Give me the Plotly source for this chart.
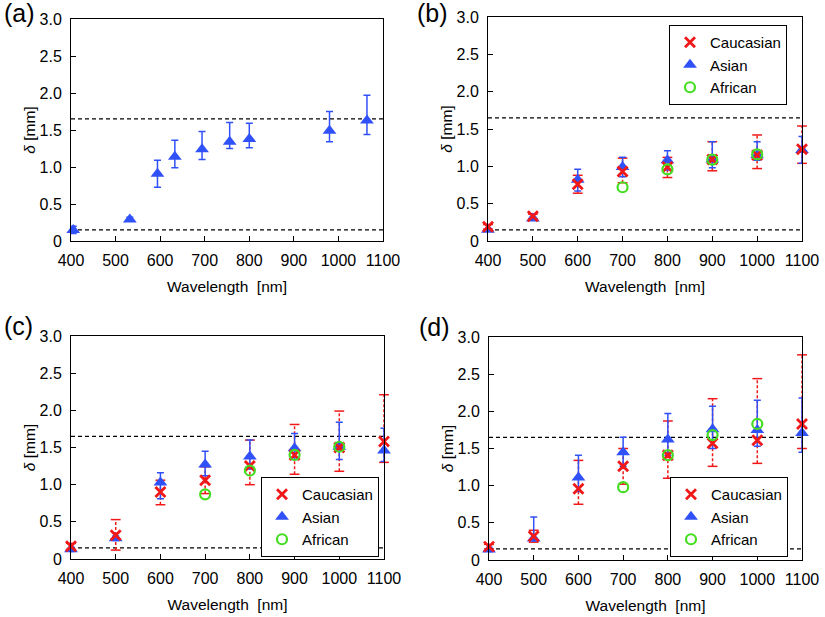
import plotly.graph_objects as go

# ---------------- data ----------------
TICK_WL = [400, 500, 600, 700, 800, 900, 1000, 1100]
TICK_D = [0, 0.5, 1.0, 1.5, 2.0, 2.5, 3.0]
TICK_D_TEXT = ["0", "0.5", "1.0", "1.5", "2.0", "2.5", "3.0"]
HLINES = [0.15, 1.65]

# panel (a)
A_WL = [405, 532, 594, 633, 694, 756, 800, 980, 1064]
A_D = [0.15, 0.29, 0.91, 1.14, 1.24, 1.34, 1.38, 1.49, 1.63]
A_HI = [0.20, 0.32, 1.09, 1.36, 1.48, 1.60, 1.59, 1.75, 1.97]
A_LO = [0.10, 0.27, 0.725, 0.99, 1.10, 1.25, 1.26, 1.34, 1.44]

# panels (b)-(d)
WL = [400, 500, 600, 700, 800, 900, 1000, 1100]
AFR_WL = [700, 800, 900, 1000]

B_CAU = [0.19, 0.33, 0.76, 0.93, 0.99, 1.09, 1.15, 1.23]
B_CAU_HI = [0.22, 0.36, 0.88, 1.11, 1.12, 1.33, 1.42, 1.54]
B_CAU_LO = [0.16, 0.30, 0.64, 0.78, 0.85, 0.94, 0.97, 1.04]
B_ASI = [0.15, 0.30, 0.82, 0.99, 1.08, 1.09, 1.15, 1.22]
B_ASI_HI = [0.17, 0.32, 0.96, 1.12, 1.21, 1.33, 1.33, 1.40]
B_ASI_LO = [0.13, 0.28, 0.67, 0.86, 0.95, 0.98, 1.08, 1.04]
B_AFR = [0.72, 0.96, 1.09, 1.16]

C_CAU = [0.17, 0.32, 0.90, 1.06, 1.25, 1.40, 1.50, 1.58]
C_CAU_HI = [0.21, 0.53, 1.06, 1.24, 1.60, 1.81, 1.99, 2.21]
C_CAU_LO = [0.13, 0.12, 0.73, 0.88, 1.00, 1.14, 1.18, 1.30]
C_ASI = [0.13, 0.28, 1.03, 1.27, 1.38, 1.49, 1.51, 1.46]
C_ASI_HI = [0.16, 0.31, 1.16, 1.45, 1.60, 1.69, 1.84, 1.76]
C_ASI_LO = [0.10, 0.25, 0.81, 1.12, 1.21, 1.34, 1.34, 1.31]
C_AFR = [0.87, 1.19, 1.40, 1.51]

D_CAU = [0.18, 0.32, 0.96, 1.26, 1.41, 1.57, 1.61, 1.83]
D_CAU_HI = [0.21, 0.40, 1.34, 1.50, 1.87, 2.17, 2.44, 2.76]
D_CAU_LO = [0.15, 0.24, 0.75, 1.02, 1.10, 1.26, 1.30, 1.50]
D_ASI = [0.14, 0.29, 1.11, 1.45, 1.62, 1.76, 1.75, 1.71]
D_ASI_HI = [0.17, 0.58, 1.41, 1.65, 1.97, 2.07, 2.15, 2.18]
D_ASI_LO = [0.11, 0.26, 0.92, 1.26, 1.41, 1.50, 1.53, 1.45]
D_AFR = [0.98, 1.41, 1.68, 1.83]

PANEL_LABELS = ["(a)", "(b)", "(c)", "(d)"]

# ---------------- style ----------------
BLUE = "#3050f8"
RED = "#f01818"
GREEN = "#44dd22"
FONT = "Liberation Sans, Arial, sans-serif"
W, H = 825, 617

# plot areas in pixels (left, right, top, bottom)
AREAS = [(71, 383, 19, 241), (488, 802, 17, 241), (71, 384, 336, 559), (489, 802, 337, 560)]
LEGEND_CENTER = [None, (728, 65), (320, 517), (729, 517)]
LABEL_POS = [(2, 13), (415, 13), (2, 326), (417, 327)]

fig = go.Figure()


def ax_names(i):
    s = "" if i == 0 else str(i + 1)
    return "x" + s, "y" + s


def asian(i, wl, d, hi, lo, legend):
    xa, ya = ax_names(i)
    fig.add_trace(go.Scatter(
        x=wl, y=d, mode="markers", name="Asian", xaxis=xa, yaxis=ya, cliponaxis=False,
        marker=dict(symbol="triangle-up", size=12, color=BLUE),
        error_y=dict(type="data", symmetric=False,
                     array=[h - v for h, v in zip(hi, d)],
                     arrayminus=[v - l for v, l in zip(d, lo)],
                     color=BLUE, thickness=1.5, width=3.5),
        showlegend=legend is not None, legend=legend or "legend", legendrank=2,
    ))


def cau_err(i, wl, hi, lo):
    xa, ya = ax_names(i)
    xs, ys = [], []
    for w, h, l in zip(wl, hi, lo):
        xs += [w, w, None]
        ys += [l, h, None]
    fig.add_trace(go.Scatter(x=xs, y=ys, mode="lines", xaxis=xa, yaxis=ya, cliponaxis=False,
                             line=dict(color=RED, width=1.5, dash="3px,2px"),
                             showlegend=False, hoverinfo="skip"))
    fig.add_trace(go.Scatter(x=list(wl) + list(wl), y=list(hi) + list(lo), mode="markers",
                             xaxis=xa, yaxis=ya, cliponaxis=False,
                             marker=dict(symbol="line-ew", size=7, line=dict(color=RED, width=1.5)),
                             showlegend=False, hoverinfo="skip"))


def cau(i, wl, d, legend):
    xa, ya = ax_names(i)
    fig.add_trace(go.Scatter(x=wl, y=d, mode="markers", name="Caucasian", xaxis=xa, yaxis=ya,
                             cliponaxis=False,
                             marker=dict(symbol="x-thin", size=10, line=dict(color=RED, width=2.8)),
                             showlegend=True, legend=legend, legendrank=1))


def afr(i, wl, d, legend):
    xa, ya = ax_names(i)
    fig.add_trace(go.Scatter(x=wl, y=d, mode="markers", name="African", xaxis=xa, yaxis=ya,
                             cliponaxis=False,
                             marker=dict(symbol="circle-open", size=10, color=GREEN,
                                         line=dict(color=GREEN, width=2.2)),
                             showlegend=True, legend=legend, legendrank=3))


# panel (a)
asian(0, A_WL, A_D, A_HI, A_LO, None)

panels = [
    (1, B_CAU, B_CAU_HI, B_CAU_LO, B_ASI, B_ASI_HI, B_ASI_LO, B_AFR, "legend"),
    (2, C_CAU, C_CAU_HI, C_CAU_LO, C_ASI, C_ASI_HI, C_ASI_LO, C_AFR, "legend2"),
    (3, D_CAU, D_CAU_HI, D_CAU_LO, D_ASI, D_ASI_HI, D_ASI_LO, D_AFR, "legend3"),
]
for i, cv, chi, clo, av, ahi, alo, fv, lg in panels:
    cau_err(i, WL, chi, clo)
    asian(i, WL, av, ahi, alo, lg)
    cau(i, WL, cv, lg)
    afr(i, AFR_WL, fv, lg)

layout = dict(width=W, height=H, margin=dict(l=0, r=0, t=0, b=0, autoexpand=False),
              paper_bgcolor="white", plot_bgcolor="white",
              font=dict(family=FONT, size=16, color="black"), shapes=[], annotations=[])

for i, (l, r, t, b) in enumerate(AREAS):
    s = "" if i == 0 else str(i + 1)
    xa, ya = ax_names(i)
    axcommon = dict(showgrid=False, zeroline=False, showline=True, linecolor="black", linewidth=1,
                    mirror=True, ticks="inside", ticklen=5, tickwidth=1, tickcolor="black",
                    automargin=False,
                    tickfont=dict(family=FONT, size=16, color="black"), ticklabelstandoff=5)
    layout["xaxis" + s] = dict(axcommon, domain=[l / W, r / W], anchor=ya, range=[400, 1100],
                               tickvals=TICK_WL, ticktext=[str(v) for v in TICK_WL],
                               title=dict(text="Wavelength  [nm]", font=dict(family=FONT, size=15.5),
                                          standoff=12))
    layout["yaxis" + s] = dict(axcommon, domain=[1 - b / H, 1 - t / H], anchor=xa, range=[0, 3.0],
                               tickvals=TICK_D, ticktext=TICK_D_TEXT,
                               title=dict(text="<i>δ</i> [mm]", font=dict(family=FONT, size=15.5),
                                          standoff=0))
    for hv in HLINES:
        layout["shapes"].append(dict(type="line", xref=xa + " domain", yref=ya, x0=0, x1=1, y0=hv, y1=hv,
                                     line=dict(color="black", width=1.2, dash="4px,3px"), layer="below"))
    lx, ly = LABEL_POS[i]
    layout["annotations"].append(dict(text=PANEL_LABELS[i], xref="paper", yref="paper", x=lx / W, y=1 - ly / H,
                                      xanchor="left", yanchor="middle", showarrow=False,
                                      font=dict(family=FONT, size=25, color="black")))

for k, name in zip([1, 2, 3], ["legend", "legend2", "legend3"]):
    px, py = LEGEND_CENTER[k]
    layout[name] = dict(x=px / W, y=1 - py / H, xanchor="center", yanchor="middle", xref="paper", yref="paper",
                        bgcolor="white", bordercolor="black", borderwidth=1,
                        font=dict(family=FONT, size=15, color="black"), itemwidth=30,
                        tracegroupgap=0)

fig.update_layout(**layout)
fig.write_html("out.html", config={"displayModeBar": False},
               post_script="document.body.style.margin='0px';document.body.style.overflow='hidden';")
